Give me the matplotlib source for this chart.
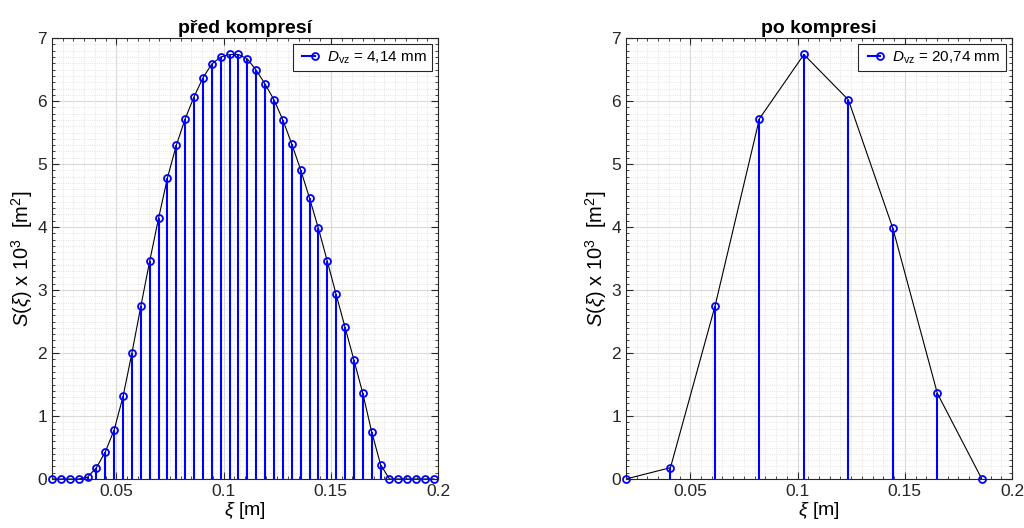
import numpy as np
import matplotlib.pyplot as plt
from matplotlib.lines import Line2D
from matplotlib.legend_handler import HandlerLine2D
from matplotlib.ticker import MultipleLocator, FormatStrFormatter

plt.rcParams['font.family'] = ['Liberation Sans', 'DejaVu Sans']
plt.rcParams['mathtext.fontset'] = 'custom'
plt.rcParams['mathtext.rm'] = 'Liberation Sans'
plt.rcParams['mathtext.it'] = 'Liberation Sans:italic'

# data
xi_start = 0.02
dvz_before = 0.00414
dvz_after = 0.02074

S_before = [0, 0, 0, 0, 0.03, 0.18, 0.43, 0.78, 1.31, 2.00, 2.74, 3.46, 4.14, 4.78,
            5.30, 5.72, 6.07, 6.37, 6.59, 6.70, 6.74, 6.74, 6.67, 6.49, 6.27, 6.02,
            5.70, 5.32, 4.91, 4.46, 3.98, 3.46, 2.93, 2.41, 1.89, 1.36, 0.75, 0.23,
            0, 0, 0, 0, 0, 0]
S_after = [0, 0.18, 2.74, 5.72, 6.74, 6.02, 3.98, 1.36, 0]

titles = ['před kompresí', 'po kompresi']
labels = [r'$D_{\mathrm{vz}}$ = 4,14 mm', r'$D_{\mathrm{vz}}$ = 20,74 mm']

x_before = xi_start + dvz_before * np.arange(len(S_before))
x_after = xi_start + dvz_after * np.arange(len(S_after))


# legend entry like matlab stem: line with the marker only at its right end
class EndMarkerHandler(HandlerLine2D):
    def create_artists(self, legend, orig_handle, xdescent, ydescent, width, height,
                       fontsize, trans):
        arts = super().create_artists(legend, orig_handle, xdescent, ydescent, width,
                                      height, fontsize, trans)
        for a in arts:
            n = len(a.get_xdata())
            a.set_markevery([n - 1])
        return arts


fig = plt.figure(figsize=(10.24, 5.28), dpi=100)
ax1 = fig.add_axes([0.0508, 0.0928, 0.377, 0.835])
ax2 = fig.add_axes([0.6113, 0.0928, 0.377, 0.835])

edge = '#262626'
for ax, x, S, title, lab in zip([ax1, ax2], [x_before, x_after], [S_before, S_after], titles, labels):
    ax.plot(x, S, color='k', lw=0.8, zorder=2)
    ml, sl, bl = ax.stem(x, S, linefmt='b-', markerfmt='bo', basefmt=' ')
    sl.set_linewidth(1.5)
    ml.set_markerfacecolor('none')
    ml.set_markersize(5)
    ml.set_markeredgewidth(1.3)
    ml.set_clip_on(False)
    sl.set_zorder(3)
    ml.set_zorder(4)

    ax.set_xlim(0.02, 0.2)
    ax.set_ylim(0, 7)
    ax.xaxis.set_major_locator(MultipleLocator(0.05))
    ax.xaxis.set_minor_locator(MultipleLocator(0.005))
    ax.yaxis.set_major_locator(MultipleLocator(1))
    ax.yaxis.set_minor_locator(MultipleLocator(0.1))
    ax.xaxis.set_major_formatter(FormatStrFormatter('%g'))
    ax.grid(True, which='major', color='#d9d9d9', lw=0.8)
    ax.grid(True, which='minor', color='#dadada', lw=0.6, ls=':')
    ax.set_axisbelow(True)
    ax.tick_params(which='both', direction='in', top=True, right=True, colors=edge,
                   labelcolor='#262626', labelsize=12.5)
    ax.tick_params(which='major', length=5, width=0.8)
    ax.tick_params(which='minor', length=2.5, width=0.6)
    for sp in ax.spines.values():
        sp.set_color(edge)
        sp.set_linewidth(0.8)

    ax.set_title(title, fontsize=14, fontweight='bold', pad=4)
    ax.set_xlabel(r'$\xi$ [m]', fontsize=14, labelpad=1)
    ax.set_ylabel(r'$S(\xi)$ x 10$^3$  [m$^2$]', fontsize=14.5, labelpad=2)

    proxy = Line2D([0], [0], color='b', lw=1.5, marker='o', mfc='none', mec='b',
                   ms=5, mew=1.3)
    leg = ax.legend([proxy], [lab], loc='upper right', fontsize=11,
                    handler_map={proxy: EndMarkerHandler(numpoints=2)},
                    fancybox=False, framealpha=1, edgecolor=edge,
                    handlelength=1.4, handletextpad=0.5, borderaxespad=0.4,
                    borderpad=0.35)
    leg.get_frame().set_linewidth(0.8)

fig.savefig('out.png', dpi=100)
